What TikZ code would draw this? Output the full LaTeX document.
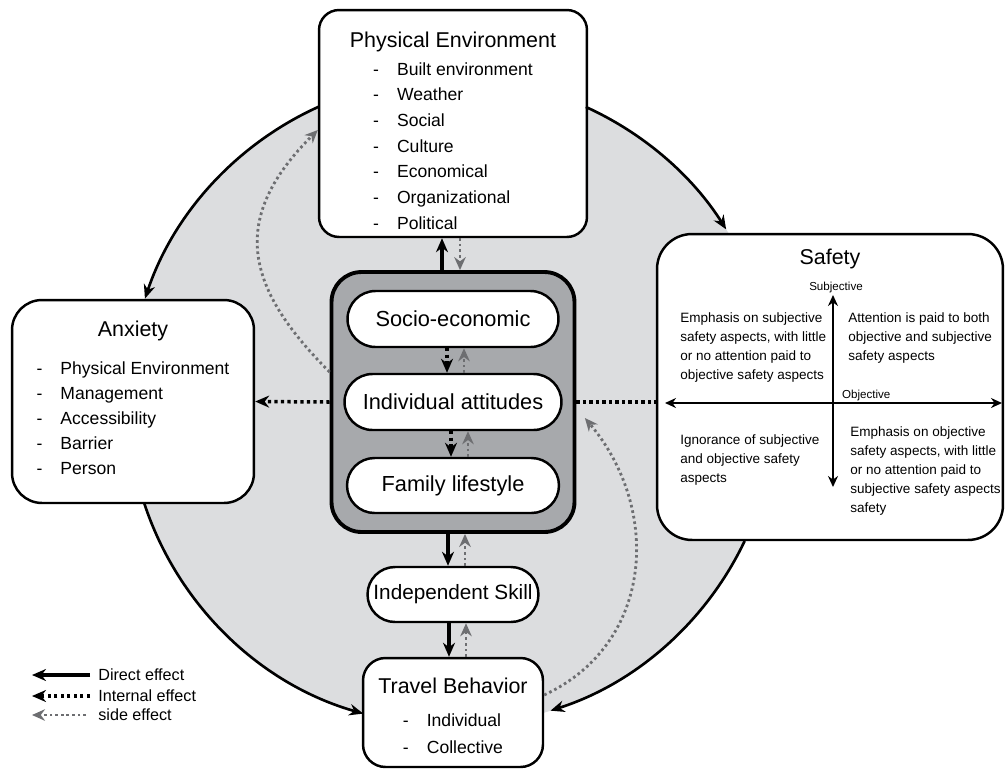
\documentclass[tikz,border=0pt]{standalone}
\usepackage{fontspec}
\setmainfont{Liberation Sans}
\usetikzlibrary{arrows.meta,positioning,calc,shapes.misc}
\definecolor{cRing}{HTML}{DCDDDF}
\definecolor{cCore}{HTML}{A7A9AC}
\definecolor{cSide}{HTML}{6D6E71}
\newcommand{\boxhd}{\fontsize{12.2}{14}\selectfont}
\newcommand{\dashlist}[2]{{\fontsize{10}{#1}\selectfont
  \begin{tabular}[t]{@{}l@{\hspace{3.6mm}}l@{}}#2\end{tabular}}}
\tikzset{
  panel/.style={draw,line width=1.4pt,fill=white,rounded corners=#1,
                align=center,inner sep=0pt,font=\fontsize{10}{16}\selectfont},
  panel/.default=4mm,
  core/.style={draw,line width=2.2pt,fill=cCore,rounded corners=6mm},
  pill/.style={rounded rectangle,draw,line width=1.4pt,fill=white,
               inner sep=0pt,font=\fontsize{12.4}{14}\selectfont},
  quad/.style={anchor=north west,align=left,inner sep=0pt,
               font=\fontsize{7.7}{10.8}\selectfont},
  axlabel/.style={inner sep=1pt,font=\fontsize{6.6}{8}\selectfont},
  legtext/.style={anchor=west,inner sep=0pt,font=\fontsize{9.2}{11}\selectfont},
  ring/.style={line width=1.5pt,-{Stealth[length=2.8mm,width=2.3mm]}},
  direct/.style={line width=1.8pt,-{Stealth[length=2.8mm,width=2.4mm]}},
  internal/.style={line width=2pt,dash pattern=on 1.8pt off 1.9pt,
                   -{Stealth[length=2.8mm,width=2.4mm]}},
  side/.style={cSide,line width=1.6pt,dash pattern=on 1.5pt off 1.7pt,
               -{Stealth[length=2.6mm,width=2.3mm]}},
  axis/.style={line width=1.4pt,
               {Stealth[length=2.2mm,width=2mm]}-{Stealth[length=2.2mm,width=2mm]}},
}
\begin{document}
\begin{tikzpicture}[x=0.02cm,y=0.02cm]
  \useasboundingbox (0,0) rectangle (1005,-769);
  \def\R{324}
  \coordinate (ctr) at (452,-402);
  \fill[cRing] (ctr) circle[radius=\R];
  % outer boxes
  \node[panel,minimum width=5.36cm,minimum height=4.54cm] (pe) at (453,-123.5)
    {{\boxhd\rule{0pt}{21pt}Physical Environment}\\
     \dashlist{14.6}{- & Built environment\\ - & Weather\\ - & Social\\ - & Culture\\
       - & Economical\\ - & Organizational\\ - & Political}};
  \node[panel=6mm,minimum width=4.84cm,minimum height=4.06cm] (anx) at (133,-401.5)
    {{\boxhd Anxiety}\\[6pt]
     \dashlist{14.2}{- & Physical Environment\\ - & Management\\ - & Accessibility\\
       - & Barrier\\ - & Person}};
  \node[panel=7mm,minimum width=6.92cm,minimum height=6.12cm] (safety) at (830,-387) {};
  \node[inner sep=0pt,font=\boxhd,below=0.32cm of safety.north] (safetyhd) {Safety};
  % center column
  \node[core,minimum width=4.86cm,minimum height=5.2cm] (core) at (453,-402) {};
  \node[pill,minimum width=4.22cm,minimum height=1.12cm] (socio) at (453,-319) {Socio-economic};
  \node[pill,minimum width=4.34cm,minimum height=1.12cm] (indiv) at (453,-402) {Individual attitudes};
  \node[pill,minimum width=4.24cm,minimum height=1.1cm] (family) at (453,-485.5) {Family lifestyle};
  \node[pill,minimum width=3.42cm,minimum height=1.1cm,font=\fontsize{11.8}{14}\selectfont]
    (skill) at (453,-594.5) {Independent Skill};
  \node[panel=4.5mm,minimum width=3.6cm,minimum height=2.18cm] (travel) at (453,-712.5)
    {{\boxhd\rule{0pt}{17pt}Travel Behavior}\\[2.7pt]
     \dashlist{15.3}{- & Individual\\ - & Collective}};
  % safety quadrants
  \coordinate (axo) at (833,-403);
  \coordinate (subjtop) at (833,-295);
  \coordinate (subjbot) at (833,-487);
  \coordinate (objl) at (665,-403);
  \coordinate (objr) at (1002,-403);
  \draw[axis] (subjbot) -- (subjtop);
  \draw[axis] (objl) -- (objr);
  \node[axlabel,above=0pt of subjtop,xshift=0.06cm] (subjlbl) {Subjective};
  \node[axlabel,anchor=south west] (objlbl) at ([xshift=0.14cm]axo) {Objective};
  \node[quad] (qTL) at (680,-312) {Emphasis on subjective\\safety aspects, with little\\
    or no attention paid to\\objective safety aspects};
  \node[quad] (qTR) at (848,-312) {Attention is paid to both\\objective and subjective\\
    safety aspects};
  \node[quad] (qBL) at (680,-434) {Ignorance of subjective\\and objective safety\\aspects};
  \node[quad] (qBR) at (850,-426) {Emphasis on objective\\safety aspects, with little\\
    or no attention paid to\\subjective safety aspects\\safety};
  % ring arrows
  \foreach \a/\b in {114.3/161.4,65.6/32.2,198.2/254.1,334.6/287.7}
    \draw[ring] ($(ctr)+(\a:\R)$) arc[start angle=\a,end angle=\b,radius=\R];
  % effects
  \draw[direct] ([xshift=-2.2mm]core.north) -- ([xshift=-2.2mm]pe.south);
  \draw[side] ([xshift=1.4mm]pe.south) -- ([xshift=1.4mm]core.north);
  \draw[internal] ([xshift=-1.2mm]socio.south) -- ([xshift=-1.2mm]indiv.north);
  \draw[side] ([xshift=2.2mm]indiv.north) -- ([xshift=2.2mm]socio.south);
  \draw[internal] ([xshift=-0.4mm]indiv.south) -- ([xshift=-0.4mm]family.north);
  \draw[side] ([xshift=3mm]family.north) -- ([xshift=3mm]indiv.south);
  \draw[direct] ([xshift=-1mm]core.south) -- ([xshift=-1mm]skill.north);
  \draw[side] ([xshift=2.4mm]skill.north) -- ([xshift=2.4mm]core.south);
  \draw[direct] ([xshift=-0.8mm]skill.south) -- ([xshift=-0.8mm]travel.north);
  \draw[side] ([xshift=2.6mm]travel.north) -- ([xshift=2.6mm]skill.south);
  \draw[internal] (core.west) -- (anx.east);
  \draw[internal,-] (core.east) -- (core.east -| safety.west);
  \draw[side] ([yshift=6mm]core.west) to[out=135,in=225,looseness=1.3] ([yshift=-1.3mm]pe.west);
  \draw[side] ([yshift=3.5mm]travel.east) to[out=25,in=-50,looseness=1.1]
    ([xshift=1.7mm,yshift=-3.2mm]core.east);
  % legend
  \foreach \y/\sty/\l/\txt in {675/direct/90/Direct effect,696/internal/90/Internal effect,
                               715/side/86/side effect}{
    \coordinate (lg\y) at (\l,-\y);
    \coordinate (lg\y e) at (32,-\y);
    \draw[\sty] (lg\y) -- (lg\y e);
    \node[legtext] at (98,-\y) {\txt};
  }
\end{tikzpicture}
\end{document}
